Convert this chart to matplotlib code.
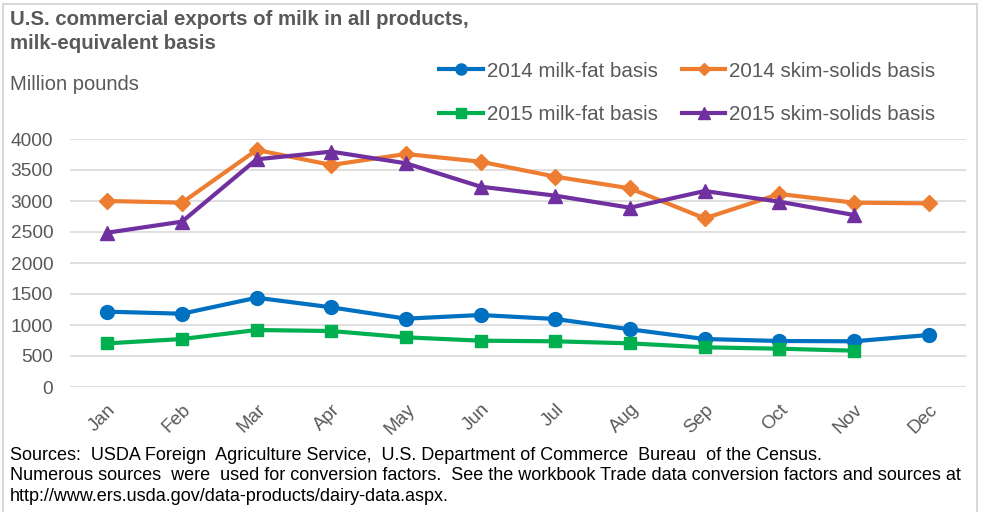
import matplotlib.pyplot as plt
from matplotlib.patches import Rectangle

months = ['Jan', 'Feb', 'Mar', 'Apr', 'May', 'Jun',
          'Jul', 'Aug', 'Sep', 'Oct', 'Nov', 'Dec']

fat_2014 = [1215, 1182, 1440, 1285, 1102, 1161, 1097, 930, 774, 742, 737, 839]
skim_2014 = [3000, 2973, 3823, 3581, 3758, 3634, 3392, 3204, 2720, 3113, 2973, 2962]
fat_2015 = [704, 774, 919, 903, 801, 747, 737, 704, 640, 618, 586]
skim_2015 = [2489, 2667, 3672, 3796, 3608, 3231, 3086, 2892, 3161, 2989, 2774]

plt.rcParams['font.family'] = ['Liberation Sans', 'DejaVu Sans']
grey = '#595959'

fig = plt.figure(figsize=(9.84, 5.12), dpi=100)
ax = fig.add_axes([70 / 984, 1 - 387 / 512, 896 / 984, 248 / 512])

x = list(range(len(months)))
l1, = ax.plot(x, fat_2014, color='#0070C0', lw=3, marker='o', ms=10,
              label='2014 milk-fat basis')
l2, = ax.plot(x, skim_2014, color='#ED7D31', lw=3, marker='D', ms=8,
              label='2014 skim-solids basis')
l3, = ax.plot(x[:11], fat_2015, color='#00B050', lw=3, marker='s', ms=9,
              label='2015 milk-fat basis')
l4, = ax.plot(x[:11], skim_2015, color='#7030A0', lw=3, marker='^', ms=10,
              label='2015 skim-solids basis')

ax.set_ylim(0, 4000)
ax.set_xlim(-0.5, 11.5)
ax.set_yticks(range(0, 4001, 500))
ax.set_xticks(x)
ax.set_xticklabels(months, rotation=45, ha='right', rotation_mode='anchor')
ax.tick_params(axis='y', length=0, labelsize=13.8, colors=grey, pad=12)
ax.tick_params(axis='x', length=0, labelsize=13.5, colors=grey, pad=10)
ax.grid(axis='y', color='#d9d9d9', lw=1.2)
ax.set_axisbelow(True)
for s in ax.spines.values():
    s.set_visible(False)

fig.text(10 / 984, 1 - 10 / 512,
         'U.S. commercial exports of milk in all products,\nmilk-equivalent basis',
         fontsize=14.7, fontweight='bold', color=grey, va='top', linespacing=1.35)
fig.text(10 / 984, 1 - 84 / 512, 'Million pounds', fontsize=14.5, color=grey,
         va='center')

leg = fig.legend(handles=[l1, l3, l2, l4], ncol=2, frameon=False,
                 loc='center left', bbox_to_anchor=(425 / 984, 1 - 93 / 512),
                 fontsize=14.8, handlelength=2.1, handletextpad=0.2,
                 columnspacing=1.2, labelspacing=1.2, markerscale=0.8,
                 borderpad=0.2)
for t in leg.get_texts():
    t.set_color(grey)

fig.text(10 / 984, 1 - 476 / 512,
         'Sources:  USDA Foreign  Agriculture Service,  U.S. Department of Commerce  Bureau  of the Census.\n'
         'Numerous sources  were  used for conversion factors.  See the workbook Trade data conversion factors and sources at\n'
         'http://www.ers.usda.gov/data-products/dairy-data.aspx.',
         fontsize=13, color='black', va='center', linespacing=1.3)

fig.patches.append(Rectangle((3 / 984, -10 / 512), 974 / 984, 518 / 512,
                             transform=fig.transFigure, fill=False,
                             edgecolor='#d9d9d9', lw=1.5))

fig.savefig('out.png', dpi=100)
